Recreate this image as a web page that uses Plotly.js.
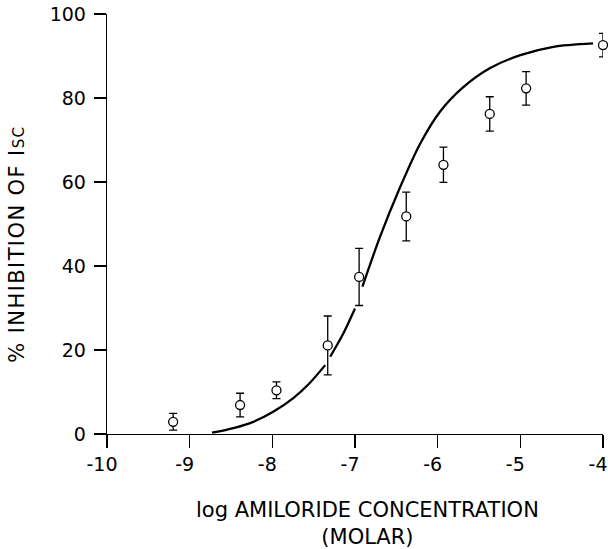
<!DOCTYPE html>
<html>
<head>
<meta charset="utf-8">
<script src="https://cdn.plot.ly/plotly-3.0.1.min.js"></script>
<style>
  html, body { margin: 0; padding: 0; background: #fff; }
  #chart { width: 608px; height: 549px; }
</style>
</head>
<body>
<div id="chart"></div>
<script>
// Measured inhibition of short-circuit current vs log amiloride concentration
const logConc = [-9.2, -8.39, -7.95, -7.33, -6.95, -6.38, -5.93, -5.37, -4.93, -4.0];
const inhibition = [2.9, 6.9, 10.4, 21.1, 37.4, 51.8, 64.1, 76.2, 82.3, 92.6];
const inhibitionErr = [2.0, 2.8, 2.0, 7.0, 6.8, 5.8, 4.2, 4.1, 4.0, 2.8];

// Fitted dose-response curve (nulls leave the small breaks where it crosses error bars)
const fitX = [-8.73, -8.47, -8.23, -7.99, -7.75, -7.55, -7.36, null,
              -7.30, -7.14, -7.00, null,
              -6.91, -6.70, -6.46, -6.215, -5.97, -5.69, -5.37, -5.00, -4.60, -4.12];
const fitY = [0.3, 1.4, 2.9, 5.3, 8.5, 12.1, 16.4, null,
              18.4, 24.0, 29.9, null,
              35.1, 46.8, 58.5, 69.0, 76.8, 82.6, 87.1, 90.2, 92.2, 93.0];

const xTicks = [-10, -9, -8, -7, -6, -5, -4];
const yTicks = [0, 20, 40, 60, 80, 100];

const font = 'DejaVu Sans, sans-serif';

const traces = [
  {
    x: fitX, y: fitY,
    type: 'scatter', mode: 'lines',
    line: { color: '#000', width: 2.3, shape: 'spline', smoothing: 0.8 },
    connectgaps: false,
    hoverinfo: 'skip',
    cliponaxis: false
  },
  {
    x: logConc, y: inhibition,
    type: 'scatter', mode: 'markers',
    marker: { symbol: 'circle', size: 9, color: '#fff', line: { color: '#000', width: 1.3 } },
    error_y: { type: 'data', array: inhibitionErr, visible: true, color: '#000', thickness: 1.3, width: 4 },
    cliponaxis: false
  }
];

const layout = {
  width: 608, height: 549,
  margin: { l: 107, r: 5, t: 14, b: 115 },
  paper_bgcolor: '#fff', plot_bgcolor: '#fff',
  showlegend: false,
  font: { family: font, color: '#000', size: 19 },
  xaxis: {
    range: [-10, -4], tickvals: xTicks, ticktext: xTicks.map(String),
    showline: true, linecolor: '#000', linewidth: 1.3,
    ticks: 'outside', ticklen: 13, tickwidth: 1.3, tickcolor: '#000',
    ticklabelshift: -5,
    showgrid: false, zeroline: false,
    tickfont: { family: font, size: 19, color: '#000' }
  },
  yaxis: {
    range: [0, 100], tickvals: yTicks, ticktext: yTicks.map(String),
    showline: true, linecolor: '#000', linewidth: 1.3,
    ticks: 'outside', ticklen: 12, tickwidth: 1.3, tickcolor: '#000',
    ticklabelstandoff: 4,
    showgrid: false, zeroline: false,
    tickfont: { family: font, size: 19, color: '#000' }
  },
  annotations: [
    {
      text: 'log AMILORIDE CONCENTRATION<br>(MOLAR)',
      xref: 'paper', yref: 'paper', x: 0.526, y: -0.214,
      xanchor: 'center', yanchor: 'middle', showarrow: false, align: 'center',
      font: { family: font, size: 21, color: '#000' }
    },
    {
      text: '% INHIBITION OF I<span style="font-size:15px">SC</span>',
      xref: 'paper', yref: 'paper', x: -0.181, y: 0.452,
      xanchor: 'center', yanchor: 'middle', showarrow: false, textangle: -90,
      font: { family: font, size: 21, color: '#000' }
    }
  ]
};

Plotly.newPlot('chart', traces, layout, { staticPlot: true, displayModeBar: false }).then(function () {
  // looser tracking on the vertical axis title
  const anns = document.querySelectorAll('#chart .annotation');
  if (anns.length > 1) {
    const t = anns[1].querySelector('text');
    if (t) t.style.letterSpacing = '1.4px';
  }
});
</script>
</body>
</html>
